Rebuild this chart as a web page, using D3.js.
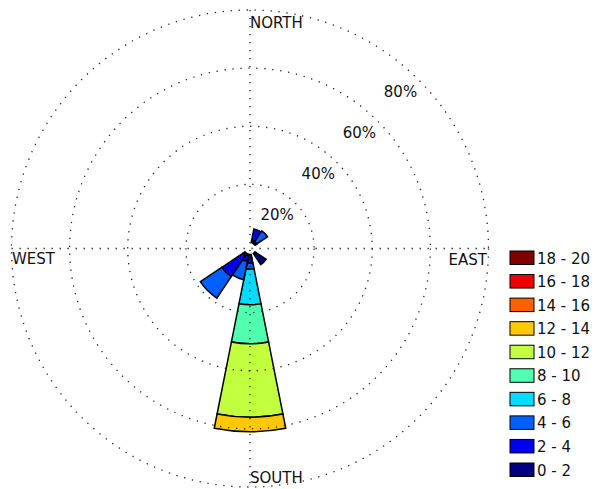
<!DOCTYPE html>
<html>
<head>
<meta charset="utf-8">
<script src="https://cdn.jsdelivr.net/npm/d3@7"></script>
<style>
  html, body { margin: 0; padding: 0; background: #fff; }
  svg { display: block; }
  text { font-family: "DejaVu Sans", "Liberation Sans", Arial, sans-serif; font-size: 15px; fill: #111; }
</style>
</head>
<body>
<svg id="rose" width="596" height="489"></svg>
<script>
// 16 compass sectors, clockwise from north
const directions = ["N", "NNE", "NE", "ENE", "E", "ESE", "SE", "SSE",
                    "S", "SSW", "SW", "WSW", "W", "WNW", "NW", "NNW"];

// Speed classes (legend labels) and their colours
const speedBins = ["0 - 2", "2 - 4", "4 - 6", "6 - 8", "8 - 10",
                   "10 - 12", "12 - 14", "14 - 16", "16 - 18", "18 - 20"];
const binColors = ["#000080", "#0000f0", "#0060ff", "#00dcff", "#50ffb0",
                   "#c2ff3e", "#ffc800", "#ff6000", "#f00000", "#800000"];

// Frequency (%) per direction for each speed class
const f0_2   = [0, 0.8, 0.3, 0, 0, 0, 4.6, 0, 1.2, 0.5, 1.0, 0, 0, 0, 0, 0];
const f2_4   = [0, 4.0, 0.6, 0, 0, 0, 0,   0, 1.8, 2.0, 8.6, 0, 0, 0, 0, 0];
const f4_6   = [0, 0,   4.3, 0, 0, 0, 0,   0, 2.1, 6.4, 8.9, 0, 0, 0, 0, 0];
const f6_8   = [0, 0,   0,   0, 0, 0, 0,   0, 12.2, 0, 0,   0, 0, 0, 0, 0];
const f8_10  = [0, 0,   0,   0, 0, 0, 0,   0, 13.4, 0, 0,   0, 0, 0, 0, 0];
const f10_12 = [0, 0,   0,   0, 0, 0, 0,   0, 25.3, 0, 0,   0, 0, 0, 0, 0];
const f12_14 = [0, 0,   0,   0, 0, 0, 0,   0, 5.0,  0, 0,   0, 0, 0, 0, 0];
const f14_16 = [0, 0,   0,   0, 0, 0, 0,   0, 0,    0, 0,   0, 0, 0, 0, 0];
const f16_18 = [0, 0,   0,   0, 0, 0, 0,   0, 0,    0, 0,   0, 0, 0, 0, 0];
const f18_20 = [0, 0,   0,   0, 0, 0, 0,   0, 0,    0, 0,   0, 0, 0, 0, 0];
const series = [f0_2, f2_4, f4_6, f6_8, f8_10, f10_12, f12_14, f14_16, f16_18, f18_20];

// Radial rings and their labels
const ringValues = [20, 40, 60, 80];
const ringLabels = ["20%", "40%", "60%", "80%"];
const cardinalLabels = ["NORTH", "EAST", "SOUTH", "WEST"];

const svg = d3.select("#rose");
const cx = 250, cy = 248.5;
const rMax = 238.5;
const r = d3.scaleLinear().domain([0, 80]).range([6, rMax]);
const sector = 2 * Math.PI / directions.length;

const g = svg.append("g").attr("transform", `translate(${cx},${cy})`);

// Stacked wedges
const arc = d3.arc();
const wedges = [];
directions.forEach((d, i) => {
  let cum = 0;
  series.forEach((s, j) => {
    const v = s[i];
    if (v > 0) {
      wedges.push({
        innerRadius: r(cum),
        outerRadius: r(cum + v),
        startAngle: i * sector - sector / 2,
        endAngle: i * sector + sector / 2,
        color: binColors[j]
      });
      cum += v;
    }
  });
});
g.selectAll("path.wedge")
  .data(wedges)
  .join("path")
  .attr("class", "wedge")
  .attr("d", d => arc(d))
  .attr("fill", d => d.color)
  .attr("stroke", "#000")
  .attr("stroke-width", 1.5)
  .attr("stroke-linejoin", "miter");

// Dotted grid drawn over the wedges
const dots = { stroke: "#222", "stroke-width": 1.3, "stroke-dasharray": "1.3 6.7", fill: "none" };
function applyDots(sel) { Object.entries(dots).forEach(([k, v]) => sel.attr(k, v)); return sel; }

applyDots(g.selectAll("circle.ring").data(ringValues).join("circle")
  .attr("class", "ring").attr("r", d => r(d)));
applyDots(g.append("line").attr("x1", -rMax).attr("x2", rMax).attr("y1", 0).attr("y2", 0));
applyDots(g.append("line").attr("x1", 0).attr("x2", 0).attr("y1", -rMax).attr("y2", rMax));

// Ring labels along the north-east diagonal
g.selectAll("text.ringlab").data(ringValues).join("text")
  .attr("class", "ringlab")
  .attr("text-anchor", "end")
  .attr("x", d => r(d) * Math.SQRT1_2 - 1.5)
  .attr("y", d => -r(d) * Math.SQRT1_2 + 17)
  .text((d, i) => ringLabels[i]);

// Compass labels
g.append("text").attr("x", 0).attr("y", -rMax + 17.5).text(cardinalLabels[0]);
g.append("text").attr("x", rMax - 1.5).attr("y", 16.5).attr("text-anchor", "end").text(cardinalLabels[1]);
g.append("text").attr("x", 0).attr("y", rMax - 4).text(cardinalLabels[2]);
g.append("text").attr("x", -rMax + 0.5).attr("y", 15.5).text(cardinalLabels[3]);

// Legend, highest class at the top
const legend = svg.append("g");
const rows = speedBins.map((b, j) => ({ label: b, color: binColors[j] })).reverse();
const rowY = d3.scaleLinear().domain([0, 9]).range([251, 463]);
const item = legend.selectAll("g").data(rows).join("g")
  .attr("transform", (d, i) => `translate(510,${rowY(i)})`);
item.append("rect").attr("width", 24).attr("height", 13.5)
  .attr("fill", d => d.color).attr("stroke", "#000").attr("stroke-width", 1);
item.append("text").attr("x", 27).attr("y", 12.5).text(d => d.label);
</script>
</body>
</html>
